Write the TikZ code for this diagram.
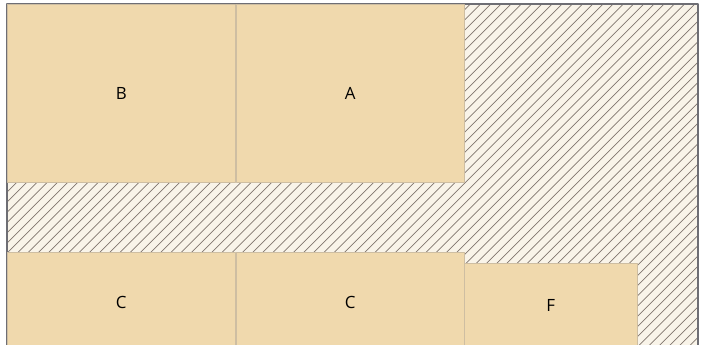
\documentclass[tikz,border=0pt]{standalone}
\usepackage{fontspec}
\setmainfont{Open Sans}
\definecolor{boxtan}{RGB}{240,217,173}
\definecolor{cream}{RGB}{249,244,233}
\definecolor{hatchgray}{RGB}{128,118,110}
\definecolor{framegray}{RGB}{110,110,116}
\definecolor{edgetan}{RGB}{206,190,162}
\tikzset{
	plate/.style={draw=edgetan, line width=0.4pt, fill=boxtan, anchor=north west, inner sep=0pt},
	wide/.style={plate, minimum width=5.7cm},
}
\begin{document}
\begin{tikzpicture}[x=0.025cm, y=-0.025cm, font=\large, line join=round, line cap=round]
		\def\xmin{7} \def\xmax{698}
		\def\ymin{4} \def\ymax{352} % bottom is cut off
		\useasboundingbox (0,0) rectangle (706,344);
		\fill[cream] (\xmin,\ymin) rectangle (\xmax,\ymax);
		\begin{scope}
			\clip (\xmin,\ymin) rectangle (\xmax,\ymax);
			\foreach \k in {-36,...,70}
				\draw[hatchgray, line width=0.5pt] (\k*10.2,\ymax) -- ++(360,-360);
		\end{scope}
		\draw[framegray, line width=0.8pt] (\xmin,\ymax) -- (\xmin,\ymin) -- (\xmax,\ymin) -- (\xmax,\ymax);
		% top row
		\node[wide, minimum height=4.45cm] (B) at (\xmin,\ymin) {B};
		\node[wide, minimum height=4.45cm] (A) at (236,\ymin) {A};
		% bottom row
		\node[wide, minimum height=2.5cm] (C1) at (\xmin,252) {C};
		\node[wide, minimum height=2.5cm] (C2) at (236,252) {C};
		\node[plate, minimum width=4.325cm, minimum height=2.1cm] (F) at (464,263) {F};
\end{tikzpicture}
\end{document}
